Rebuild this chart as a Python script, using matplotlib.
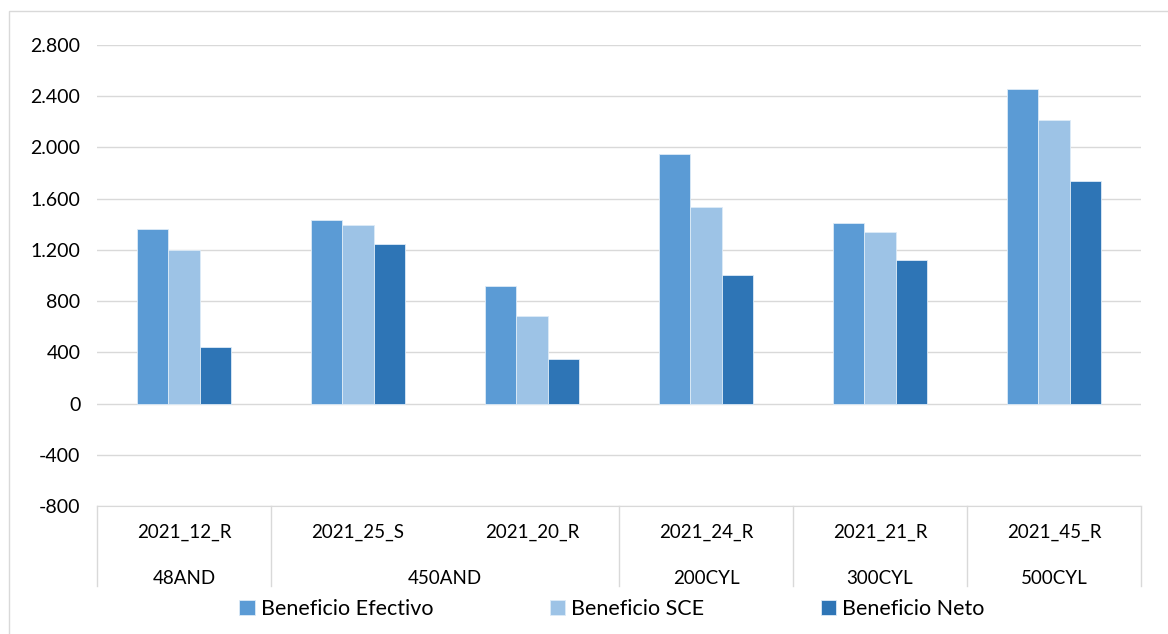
import matplotlib
matplotlib.use("Agg")
import matplotlib.pyplot as plt
import matplotlib.transforms as mtransforms
from matplotlib.patches import Rectangle
import numpy as np

plt.rcParams['font.family'] = ['Lato', 'DejaVu Sans']

# ---- data ----
categories = ["2021_12_R", "2021_25_S", "2021_20_R", "2021_24_R", "2021_21_R", "2021_45_R"]
groups = ["48AND", "450AND", "450AND", "200CYL", "300CYL", "500CYL"]
series_names = ["Beneficio Efectivo", "Beneficio SCE", "Beneficio Neto"]
beneficio_efectivo = [1367, 1430, 917, 1946, 1409, 2454]
beneficio_sce = [1201, 1396, 685, 1534, 1339, 2211]
beneficio_neto = [438, 1245, 346, 1003, 1123, 1735]
y_ticks = [-800, -400, 0, 400, 800, 1200, 1600, 2000, 2400, 2800]
y_tick_labels = ["-800", "-400", "0", "400", "800", "1.200", "1.600", "2.000", "2.400", "2.800"]

colors = ["#5B9BD5", "#9DC3E6", "#2E75B6"]

W, H = 1168, 634
fig = plt.figure(figsize=(W / 100, H / 100), dpi=100)

# outer chart frame
fig.patches.append(Rectangle((9 / W, -0.1), 1.2, 1 - 11 / H + 0.1, transform=fig.transFigure,
                             fill=False, edgecolor="#D9D9D9", linewidth=1.0))

left, right = 97 / W, 1141 / W
top, bottom = 1 - 45 / H, 1 - 506 / H
ax = fig.add_axes([left, bottom, right - left, top - bottom])

x = np.arange(len(categories))
bw = 0.18
for i, (vals, name) in enumerate(zip([beneficio_efectivo, beneficio_sce, beneficio_neto], series_names)):
    ax.bar(x + (i - 1) * bw, vals, width=bw, color=colors[i], label=name,
           edgecolor="#DDEBF7", linewidth=0.6, zorder=3)

ax.set_xlim(-0.5, len(categories) - 0.5)
ax.set_ylim(-800, 2800)
ax.set_yticks(y_ticks)
ax.set_yticklabels(y_tick_labels, fontsize=14, color="#000000")
ax.yaxis.grid(True, color="#D9D9D9", linewidth=1.0, zorder=0)
ax.tick_params(axis="y", length=0, pad=12)
for s in ["top", "right", "left"]:
    ax.spines[s].set_visible(False)
ax.spines["bottom"].set_color("#D9D9D9")

ax.set_xticks(x)
ax.set_xticklabels([])
ax.tick_params(axis="x", length=0)

trans = mtransforms.blended_transform_factory(ax.transData, ax.transAxes)
axh = top - bottom
y_row1 = -(532 - 506) / H / axh
y_row2 = -(578 - 506) / H / axh
y_sep = -(586 - 506) / H / axh

for xi, lab in zip(x, categories):
    ax.text(xi, y_row1, lab, transform=trans, ha="center", va="center", fontsize=13.5)

# group labels and separators
uniq = []
for i, g in enumerate(groups):
    if not uniq or uniq[-1][0] != g:
        uniq.append([g, i, i])
    else:
        uniq[-1][2] = i
bounds = set()
for g, a, b in uniq:
    ax.text((a + b) / 2, y_row2, g, transform=trans, ha="center", va="center", fontsize=13.5)
    bounds.add(a - 0.5)
    bounds.add(b + 0.5)
for bx in sorted(bounds):
    ax.plot([bx, bx], [0, y_sep], transform=trans, color="#D9D9D9", linewidth=1.0, clip_on=False)

leg = fig.legend(loc="center", bbox_to_anchor=(0.524, 1 - 609 / H), ncol=3, frameon=False,
                 fontsize=15.5, handlelength=0.7, handleheight=0.7, handletextpad=0.3,
                 columnspacing=5.4)

fig.savefig("out.png", dpi=100, facecolor="white")
